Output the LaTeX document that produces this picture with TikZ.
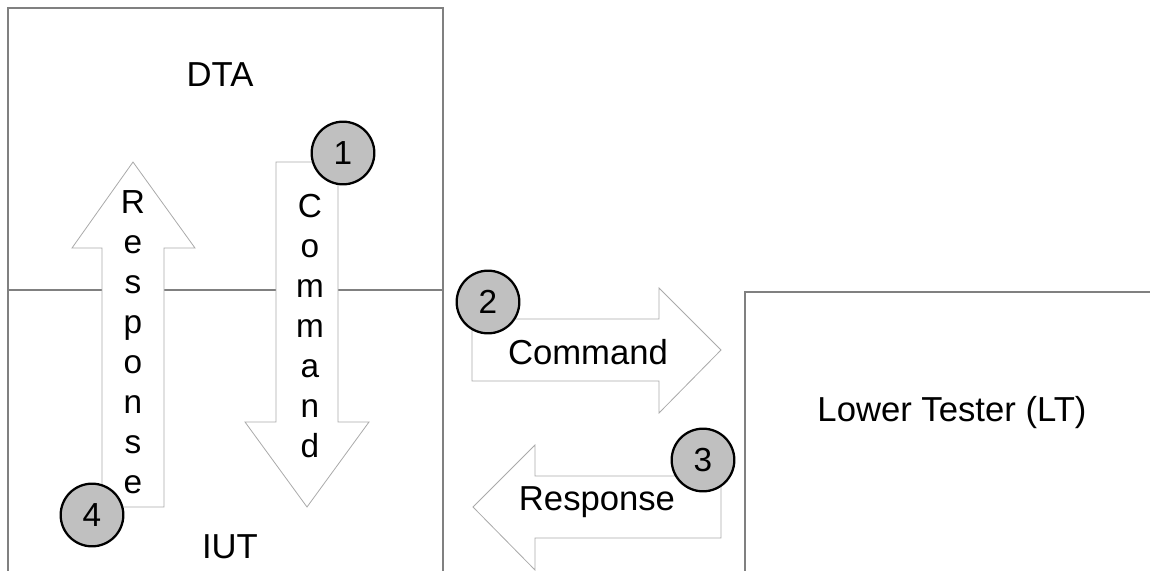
\documentclass[tikz,border=0pt]{standalone}
\usepackage{xcolor}
\usepackage{tikz}
\usepackage{fontspec}
\setmainfont{Liberation Sans}

\definecolor{boxline}{RGB}{128,128,128}
\definecolor{arrowline}{RGB}{170,170,170}
\definecolor{stepfill}{RGB}{192,192,192}

\tikzset{
  stepmark/.style={circle, draw=black, line width=1.7pt, fill=stepfill, minimum size=47pt, inner sep=0pt, font=\fontsize{25}{30}\selectfont},
  blockarrow/.style={draw=arrowline, fill=white, line width=0.6pt},
  label/.style={font=\fontsize{26}{31}\selectfont},
  vlabel/.style={font=\fontsize{25}{30}\selectfont, align=center, inner sep=0pt}
}

\begin{document}
\begin{tikzpicture}[x=0.75pt,y=0.75pt,yscale=-1,xscale=1]
\useasboundingbox (0,0) rectangle (1150,571);

%Shape: Rectangle DTA / IUT
\draw [color=boxline, line width=1.1pt]  (8,571) -- (8,8) -- (443,8) -- (443,571) ;
%Straight Lines
\draw [color=boxline, line width=1.1pt]  (8,290) -- (443,290) ;
%Shape: Rectangle LT
\draw [color=boxline, line width=1.1pt]  (745,571) -- (745,292) -- (1150,292) ;

%Shape: Up Arrow
\draw [blockarrow]  (102,507) -- (102,248) -- (72,248) -- (133,162) -- (195,248) -- (164,248) -- (164,507) -- cycle ;
%Shape: Down Arrow
\draw [blockarrow]  (276,162) -- (338,162) -- (338,422) -- (369,422) -- (307,507) -- (245,422) -- (276,422) -- cycle ;
%Shape: Right Arrow
\draw [blockarrow]  (472,319) -- (659,319) -- (659,288) -- (721,350) -- (659,413) -- (659,381) -- (472,381) -- cycle ;
%Shape: Left Arrow
\draw [blockarrow]  (721,476) -- (535,476) -- (535,445) -- (473,507) -- (535,570) -- (535,538) -- (721,538) -- cycle ;

% Text Node
\node [label] (dta) at (220,75) {DTA};
% Text Node
\node [label] (iut) at (230,547) {IUT};
% Text Node
\node [label] (lt) at (952,413) {Lower Tester (LT)};
% Text Node
\node [vlabel] (resp) at (133,342) {R\\e\\s\\p\\o\\n\\s\\e};
% Text Node
\node [vlabel] (cmd) at (310,326) {C\\o\\m\\m\\a\\n\\d};
% Text Node
\node [label] (cmdh) at (588,352) {Command};
% Text Node
\node [label] (resph) at (597,502) {Response};

% Step Nodes
\node [stepmark] (s1) at (343,153) {1};
\node [stepmark] (s2) at (488,302) {2};
\node [stepmark] (s3) at (703,460) {3};
\node [stepmark] (s4) at (92,515) {4};

\end{tikzpicture}
\end{document}
